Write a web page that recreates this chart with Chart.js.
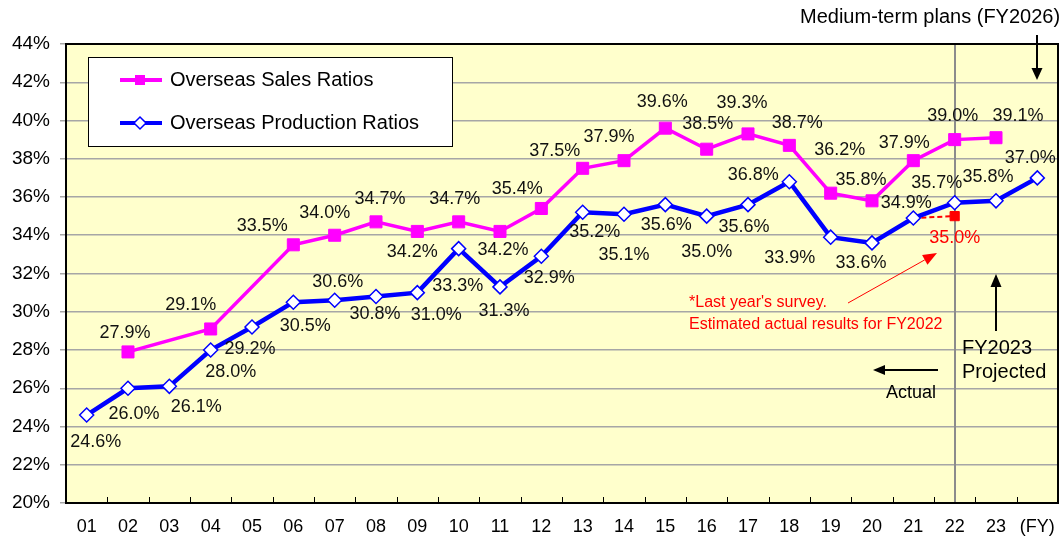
<!DOCTYPE html>
<html>
<head>
<meta charset="utf-8">
<script src="https://cdn.jsdelivr.net/npm/chart.js@4.4.0/dist/chart.umd.min.js"></script>
<style>
  html, body { margin: 0; padding: 0; background: #fff; }
  #wrap { width: 1063px; height: 537px; }
</style>
</head>
<body>
<div id="wrap"><canvas id="ratioChart" width="1063" height="537"></canvas></div>
<script>
// fiscal years (last slot = medium-term plan FY2026)
const years = ["01", "02", "03", "04", "05", "06", "07", "08", "09", "10", "11", "12",
  "13", "14", "15", "16", "17", "18", "19", "20", "21", "22", "23", "26"];

const salesRatios = [null, 27.9, null, 29.1, null, 33.5, 34.0, 34.7, 34.2, 34.7, 34.2, 35.4,
  37.5, 37.9, 39.6, 38.5, 39.3, 38.7, 36.2, 35.8, 37.9, 39.0, 39.1, null];

const productionRatios = [24.6, 26.0, 26.1, 28.0, 29.2, 30.5, 30.6, 30.8, 31.0, 33.3, 31.3, 32.9,
  35.2, 35.1, 35.6, 35.0, 35.6, 36.8, 33.9, 33.6, 34.9, 35.7, 35.8, 37.0];

// last year's survey estimate for FY2022 (dashed from FY21 actual)
const lastSurvey = [null, null, null, null, null, null, null, null, null, null, null, null,
  null, null, null, null, null, null, null, null, 34.9, 35.0, null, null];

const yTicks = [20, 22, 24, 26, 28, 30, 32, 34, 36, 38, 40, 42, 44];

// label placement (dx, dy from the point)
const salesLabelPos = [null, [-3, -19], null, [-20, -24], null, [-31, -19], [-10, -22], [4, -23],
  [-5, 21], [-4, -23], [3, 19], [-24, -19], [-28, -17], [-15, -24], [-3, -26], [1, -25],
  [-6, -31], [8, -22], [9, -43], [-11, -21], [-9, -18], [-2, -24], [22, -22], null];

const prodLabelPos = [[9, 27], [6, 26], [27, 21], [20, 22], [-2, 22], [12, 24], [3, -18], [-1, 18],
  [19, 22], [-1, 37], [4, 24], [8, 22], [12, 20], [0, 41], [1, 20], [0, 36], [-4, 22],
  [-36, -7], [-41, 21], [-11, 20], [-7, -15], [-18, -20], [-8, -24], [-7, -20]];

const FONT = '"Liberation Sans", Arial, sans-serif';
const MAGENTA = "#FF00FF";
const BLUE = "#0000FF";
const RED = "#FF0000";
const PLOT_RIGHT_GAP = 5;

function arrow(ctx, x1, y1, x2, y2, headLen, headW, color, width) {
  const a = Math.atan2(y2 - y1, x2 - x1);
  const bx = x2 - Math.cos(a) * headLen;
  const by = y2 - Math.sin(a) * headLen;
  ctx.save();
  ctx.strokeStyle = color;
  ctx.fillStyle = color;
  ctx.lineWidth = width;
  ctx.beginPath();
  ctx.moveTo(x1, y1);
  ctx.lineTo(bx, by);
  ctx.stroke();
  ctx.beginPath();
  ctx.moveTo(x2, y2);
  ctx.lineTo(bx - Math.sin(a) * headW / 2, by + Math.cos(a) * headW / 2);
  ctx.lineTo(bx + Math.sin(a) * headW / 2, by - Math.cos(a) * headW / 2);
  ctx.closePath();
  ctx.fill();
  ctx.restore();
}

const framePlugin = {
  id: "frame",
  afterLayout(chart) {
    // stretch the plot to the right edge (last tick label would otherwise pad it)
    const xs = chart.scales.x;
    const right = chart.width - PLOT_RIGHT_GAP;
    chart.chartArea.right = right;
    chart.chartArea.width = right - chart.chartArea.left;
    xs.right = right;
    xs.width = right - xs.left;
    xs.configure();
  },
  beforeDraw(chart) {
    const { ctx, chartArea: a } = chart;
    ctx.save();
    ctx.fillStyle = "#FFFFCC";
    ctx.fillRect(a.left, a.top, a.right - a.left, a.bottom - a.top);
    ctx.restore();
  },
  beforeDatasetsDraw(chart) {
    const { ctx, chartArea: a, scales } = chart;
    const xs = scales.x;
    ctx.save();
    // divider between actual and projected
    const xd = Math.round(xs.getPixelForValue(21));
    ctx.strokeStyle = "#8C8C8C";
    ctx.lineWidth = 2;
    ctx.beginPath();
    ctx.moveTo(xd, a.top);
    ctx.lineTo(xd, a.bottom);
    ctx.stroke();
    // small inward ticks between categories
    ctx.strokeStyle = "#000";
    ctx.lineWidth = 1;
    for (let i = 1; i < years.length; i++) {
      const xt = Math.round((xs.getPixelForValue(i - 1) + xs.getPixelForValue(i)) / 2) + 0.5;
      ctx.beginPath();
      ctx.moveTo(xt, a.bottom);
      ctx.lineTo(xt, a.bottom - 6);
      ctx.stroke();
    }
    ctx.lineWidth = 2;
    ctx.strokeRect(a.left, a.top, a.right - a.left, a.bottom - a.top);
    ctx.restore();
  },
  afterDatasetsDraw(chart) {
    const { ctx } = chart;
    ctx.save();
    ctx.font = "18px " + FONT;
    ctx.textAlign = "center";
    ctx.textBaseline = "middle";
    const put = (dsIndex, values, pos, color) => {
      const meta = chart.getDatasetMeta(dsIndex);
      values.forEach((v, i) => {
        if (v === null || !pos[i]) return;
        const p = meta.data[i];
        ctx.fillStyle = color;
        ctx.fillText(v.toFixed(1) + "%", p.x + pos[i][0], p.y + pos[i][1]);
      });
    };
    put(0, productionRatios, prodLabelPos, "#111");
    put(1, salesRatios, salesLabelPos, "#111");
    const survey = lastSurvey.map((v, i) => (i === 21 ? v : null));
    put(2, survey, survey.map(v => (v === null ? null : [0, 22])), RED);
    ctx.restore();
  },
  afterDraw(chart) {
    const { ctx, scales } = chart;
    const xs = scales.x;
    ctx.save();

    // legend box
    ctx.fillStyle = "#fff";
    ctx.fillRect(88, 57, 364, 89);
    ctx.strokeStyle = "#000";
    ctx.lineWidth = 1;
    ctx.strokeRect(88.5, 57.5, 364, 89);
    ctx.lineWidth = 4;
    ctx.strokeStyle = MAGENTA;
    ctx.beginPath(); ctx.moveTo(120, 80); ctx.lineTo(162, 80); ctx.stroke();
    ctx.fillStyle = MAGENTA;
    ctx.fillRect(135, 75, 10, 10);
    ctx.strokeStyle = BLUE;
    ctx.beginPath(); ctx.moveTo(120, 123); ctx.lineTo(162, 123); ctx.stroke();
    ctx.fillStyle = "#fff";
    ctx.lineWidth = 1.5;
    ctx.beginPath();
    ctx.moveTo(140, 117); ctx.lineTo(146, 123); ctx.lineTo(140, 129); ctx.lineTo(134, 123);
    ctx.closePath(); ctx.fill(); ctx.stroke();
    ctx.fillStyle = "#000";
    ctx.font = "20px " + FONT;
    ctx.textAlign = "left";
    ctx.textBaseline = "middle";
    ctx.fillText("Overseas Sales Ratios", 170, 80);
    ctx.fillText("Overseas Production Ratios", 170, 123);

    // medium-term plan note
    ctx.fillText("Medium-term plans (FY2026)", 800, 17);
    const xp = Math.round(xs.getPixelForValue(23));
    arrow(ctx, xp, 35, xp, 80, 12, 11, "#000", 2);

    // projected note
    const xq = Math.round(xs.getPixelForValue(22));
    arrow(ctx, xq, 331, xq, 274, 13, 11, "#000", 2);
    ctx.fillText("FY2023", 962, 348);
    ctx.fillText("Projected", 962, 372);

    // actual note
    arrow(ctx, 938, 370, 873, 370, 12, 10, "#000", 2);
    ctx.font = "18px " + FONT;
    ctx.textAlign = "center";
    ctx.fillText("Actual", 911, 393);

    // last-year survey note
    ctx.fillStyle = RED;
    ctx.font = "16px " + FONT;
    ctx.textAlign = "left";
    ctx.fillText("*Last year's survey.", 689, 303);
    ctx.fillText("Estimated actual results for FY2022", 689, 325);
    arrow(ctx, 848, 303, 937, 253, 14, 11, RED, 1);

    ctx.restore();
  }
};

new Chart(document.getElementById("ratioChart"), {
  type: "line",
  data: {
    labels: years,
    datasets: [
      {
        label: "Overseas Production Ratios",
        data: productionRatios,
        borderColor: BLUE,
        borderWidth: 4.5,
        pointStyle: "rectRot",
        pointRadius: 7,
        pointBackgroundColor: "#fff",
        pointBorderColor: BLUE,
        pointBorderWidth: 1.5,
        tension: 0
      },
      {
        label: "Overseas Sales Ratios",
        data: salesRatios,
        spanGaps: true,
        borderColor: MAGENTA,
        borderWidth: 3.5,
        pointStyle: "rect",
        pointRadius: 8.5,
        pointBackgroundColor: MAGENTA,
        pointBorderColor: MAGENTA,
        pointBorderWidth: 1,
        tension: 0
      },
      {
        label: "Last year's survey",
        data: lastSurvey,
        borderColor: RED,
        borderWidth: 2,
        borderDash: [5, 3],
        pointStyle: "rect",
        pointRadius: ctx => (ctx.dataIndex === 21 ? 6.5 : 0),
        pointBackgroundColor: RED,
        pointBorderColor: RED,
        pointBorderWidth: 1,
        tension: 0
      }
    ]
  },
  options: {
    responsive: false,
    animation: false,
    layout: { padding: { top: 44, right: 5, bottom: 0, left: 0 } },
    plugins: {
      legend: { display: false },
      tooltip: { enabled: false }
    },
    scales: {
      x: {
        offset: true,
        grid: { display: false, drawTicks: false },
        border: { display: false },
        ticks: {
          autoSkip: false,
          maxRotation: 0,
          padding: 13,
          color: "#000",
          font: { family: FONT, size: 18 },
          callback: (v, i) => (i === years.length - 1 ? "(FY)" : years[i])
        },
        afterFit: s => { s.height = 34; }
      },
      y: {
        min: yTicks[0],
        max: yTicks[yTicks.length - 1],
        afterBuildTicks: s => { s.ticks = yTicks.map(v => ({ value: v })); },
        ticks: {
          padding: 10,
          color: "#000",
          font: { family: FONT, size: 19 },
          callback: v => v + "%"
        },
        grid: { color: "#A6A6A6", lineWidth: 1.5, tickLength: 6 },
        border: { display: false },
        afterFit: s => { s.width = 66; }
      }
    }
  },
  plugins: [framePlugin]
});
</script>
</body>
</html>
